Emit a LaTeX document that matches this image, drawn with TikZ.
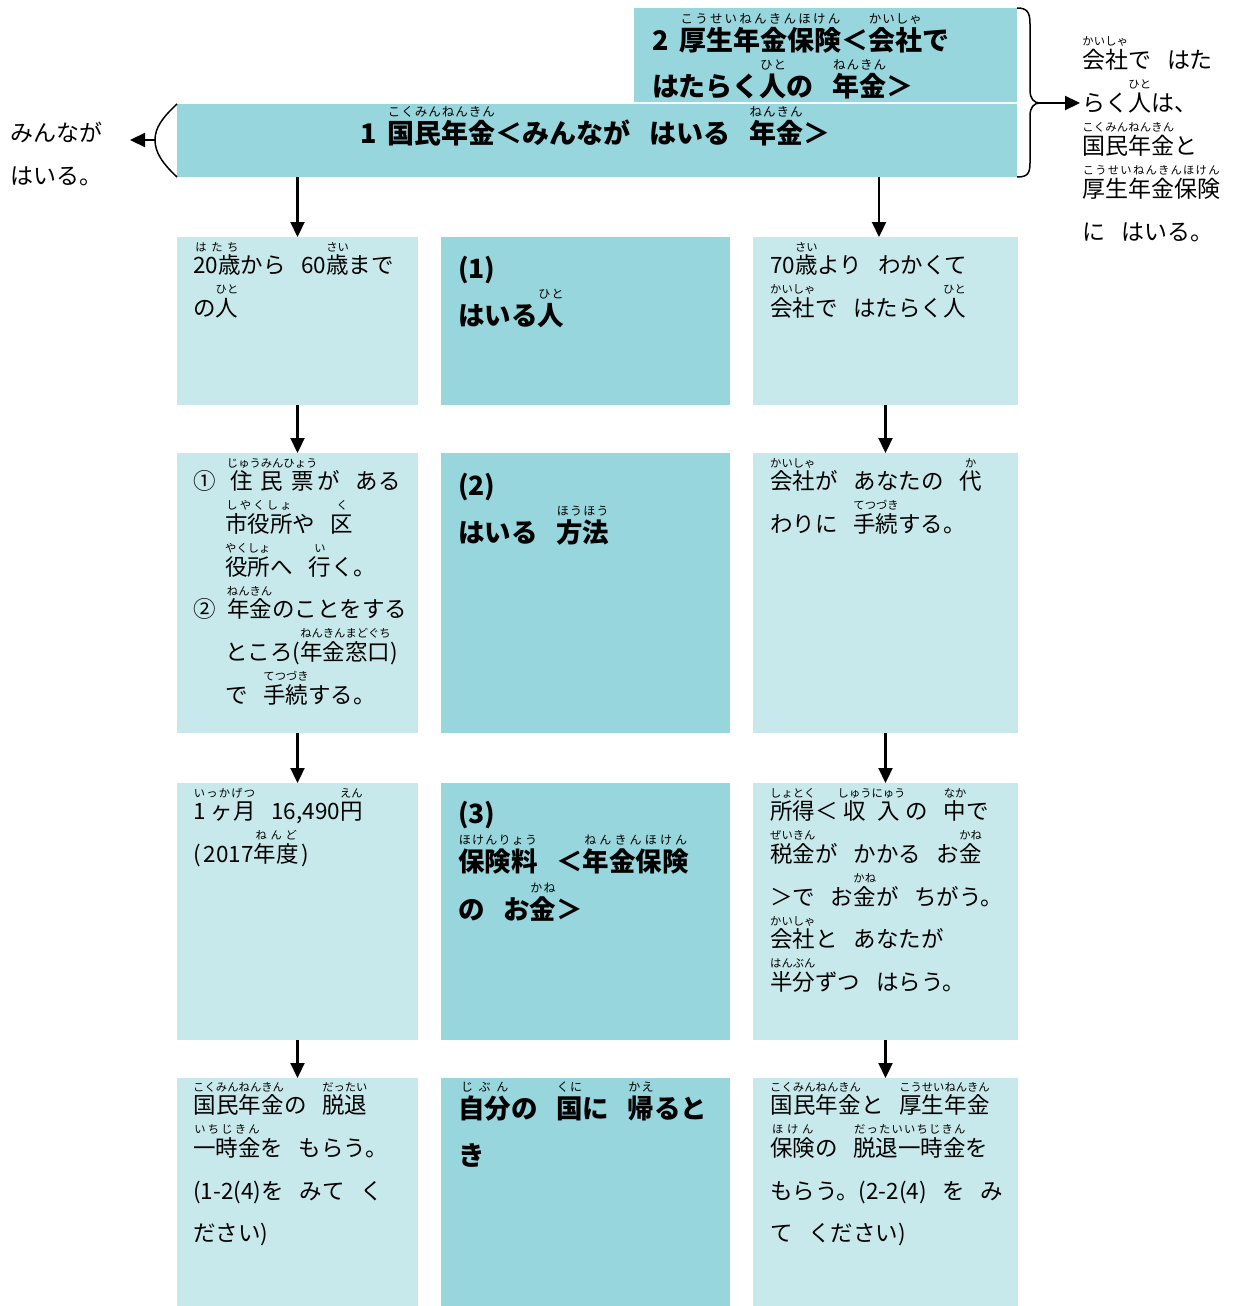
\documentclass[tikz,border=0pt]{standalone}
\usepackage{fontspec}
\setmainfont{Noto Sans CJK JP}
\usetikzlibrary{arrows.meta}
\definecolor{lightbox}{HTML}{C8E9EC}
\definecolor{darkbox}{HTML}{97D6DC}
\makeatletter
\newdimen\rbw
\newbox\rbbase
\newbox\rbtop
\def\rubysize{11.3}
\newcommand\rubyfont{\fontsize{\rubysize pt}{\rubysize pt}\selectfont\mdseries}
\newcommand\spreadto[2]{\hbox to #1{\hskip 0pt plus 1fil\@tfor\rb@x:=#2\do{\rb@x\hskip 0pt plus 2fil}\unskip\hskip 0pt plus 1fil}}
\newcommand\rb[2]{\leavevmode
  \setbox\rbbase\hbox{#1}\setbox\rbtop\hbox{\rubyfont #2}%
  \ifdim\wd\rbtop>\wd\rbbase \rbw=\wd\rbtop \else \rbw=\wd\rbbase \fi
  \rlap{\raisebox{1em}{\rubyfont\spreadto{\rbw}{#2}}}%
  \ifdim\wd\rbtop>\wd\rbbase \spreadto{\rbw}{#1}\else\box\rbbase\fi}
\makeatother
\newcommand\gp{\hskip.7em\relax}
\newcommand\jlines[2][42.7pt]{\vtop{\baselineskip=#1\lineskiplimit=-100pt\lineskip=0pt #2}}
\newcommand\jl[1]{\hbox{#1}}
\newcommand\bodyf{\fontsize{22.5pt}{42.7pt}\selectfont\def\rubysize{11.3}}
\newcommand\sidef{\fontsize{23pt}{43pt}\selectfont\def\rubysize{11.3}}
\newcommand\ttlf{\fontsize{27pt}{46pt}\selectfont\bfseries\def\rubysize{12.5}}
\newcommand\midf{\fontsize{26.5pt}{47pt}\selectfont\bfseries\def\rubysize{12}}
\tikzset{
  bx/.style={anchor=north west, inner sep=0pt, outer sep=0pt, draw=none},
  lbx/.style={bx, fill=lightbox},
  dbx/.style={bx, fill=darkbox},
  body/.style={anchor=base west, inner sep=0pt, font=\bodyf},
  side/.style={anchor=base west, inner sep=0pt, font=\sidef},
  ttl/.style={anchor=base west, inner sep=0pt, font=\ttlf},
  mid/.style={anchor=base west, inner sep=0pt, font=\midf},
  arr/.style={line width=2.2pt, -{Triangle[length=15pt,width=14pt]}},
  brk/.style={line width=1.5pt},
}
\begin{document}
\begin{tikzpicture}[x=1pt,y=-1pt]
\useasboundingbox (0,0) rectangle (1235,1306);
\fill[white] (0,0) rectangle (1235,1306);
% title boxes
\node[dbx, minimum width=383pt, minimum height=94pt] (t2) at (634,8) {};
\node[dbx, minimum width=840pt, minimum height=73pt] (t1) at (177,104) {};
% grid boxes
\node[lbx, minimum width=241pt, minimum height=168pt] (l1) at (177,237) {};
\node[dbx, minimum width=289pt, minimum height=168pt] (m1) at (441,237) {};
\node[lbx, minimum width=265pt, minimum height=168pt] (r1) at (753,237) {};
\node[lbx, minimum width=241pt, minimum height=280pt] (l2) at (177,453) {};
\node[dbx, minimum width=289pt, minimum height=280pt] (m2) at (441,453) {};
\node[lbx, minimum width=265pt, minimum height=280pt] (r2) at (753,453) {};
\node[lbx, minimum width=241pt, minimum height=257pt] (l3) at (177,783) {};
\node[dbx, minimum width=289pt, minimum height=257pt] (m3) at (441,783) {};
\node[lbx, minimum width=265pt, minimum height=257pt] (r3) at (753,783) {};
\node[lbx, minimum width=241pt, minimum height=228pt] (l4) at (177,1078) {};
\node[dbx, minimum width=289pt, minimum height=228pt] (m4) at (441,1078) {};
\node[lbx, minimum width=265pt, minimum height=228pt] (r4) at (753,1078) {};
% title texts
\node[ttl] (t2t) at (652,50.3) {\jlines[46pt]{%
  \jl{2\hskip.4em\rb{厚生年金保険}{こうせいねんきんほけん}＜\rb{会社}{かいしゃ}で}%
  \jl{はたらく\rb{人}{ひと}の\gp\rb{年金}{ねんきん}＞}}};
\node[ttl] (t1t) at (360,143.3) {1\hskip.4em\rb{国民年金}{こくみんねんきん}＜みんなが\gp はいる\gp\rb{年金}{ねんきん}＞};
% side texts
\node[side] (lt) at (10,141.6) {\jlines[43pt]{\jl{みんなが}\jl{はいる。}}};
\node[side] (rt) at (1082,68.7) {\jlines[43pt]{%
  \jl{\rb{会社}{かいしゃ}で\gp はた}%
  \jl{らく\rb{人}{ひと}は、}%
  \jl{\rb{国民年金}{こくみんねんきん}と}%
  \jl{\rb{厚生年金保険}{こうせいねんきんほけん}}%
  \jl{に\gp はいる。}}};
% brackets
\coordinate (bk) at (155,140);
\coordinate (bkend) at (130,140);
\draw[brk] (t1.north west) .. controls (162,118) and (155,128) .. (bk) .. controls (155,152) and (162,163) .. (t1.south west);
\draw[arr] (bk) -- (bkend);
\coordinate (br) at (1040,103);
\coordinate (brend) at (1080,103);
\draw[brk] (t2.north east) .. controls (1027,8) and (1030,12) .. (1030,24) -- (1030,90) .. controls (1030,99) and (1034,103) .. (br)
  .. controls (1034,103) and (1030,107) .. (1030,116) -- (1030,163) .. controls (1030,174) and (1027,177) .. (t1.south east);
\draw[arr] (br) -- (brend);
% arrows
\draw[arr] (t1.south -| l1.north) -- (l1.north);
\draw[arr] ([xshift=-6.5pt]r1.north |- t1.south) -- ([xshift=-6.5pt]r1.north);
\draw[arr] (l1.south) -- (l2.north);
\draw[arr] (l2.south) -- (l3.north);
\draw[arr] (l3.south) -- (l4.north);
\draw[arr] (r1.south) -- (r2.north);
\draw[arr] (r2.south) -- (r3.north);
\draw[arr] (r3.south) -- (r4.north);
% left column texts
\node[body] (l1t) at (193,273.5) {\jlines{%
  \jl{\rb{20歳}{はたち}から\gp 60\rb{歳}{さい}まで}%
  \jl{の\rb{人}{ひと}}}};
\node[body] (l2t) at (193,489.6) {\jlines{%
  \jl{①\hskip.5em\rb{住民票}{じゅうみんひょう}が\gp ある}%
  \jl{\hskip32pt\rb{市役所}{しやくしょ}や\gp\rb{区}{く}}%
  \jl{\hskip32pt\rb{役所}{やくしょ}へ\gp\rb{行}{い}く。}%
  \jl{②\hskip.5em\rb{年金}{ねんきん}のことをする}%
  \jl{\hskip32pt ところ(\rb{年金窓口}{ねんきんまどぐち})}%
  \jl{\hskip32pt で\gp\rb{手続}{てつづき}する。}}};
\node[body] (l3t) at (193,819.6) {\jlines{%
  \jl{\rb{1~ヶ月}{いっかげつ}\gp 16,490\rb{円}{えん}}%
  \jl{(\hskip3pt 2017\rb{年度}{ねんど}\hskip3pt)}}};
\node[body] (l4t) at (193,1113.6) {\jlines{%
  \jl{\rb{国民年金}{こくみんねんきん}の\gp\rb{脱退}{だったい}}%
  \jl{\rb{一時金}{いちじきん}を\gp もらう。}%
  \jl{(1-2(4)を\gp みて\gp く}%
  \jl{ださい)}}};
% middle column texts
\node[mid] (m1t) at (458,278) {\jlines[47pt]{\jl{(1)}\jl{はいる\rb{人}{ひと}}}};
\node[mid] (m2t) at (458,495) {\jlines[47pt]{\jl{(2)}\jl{はいる\gp\rb{方法}{ほうほう}}}};
\node[mid] (m3t) at (458,823) {\jlines[48pt]{\jl{(3)}%
  \jl{\rb{保険料}{ほけんりょう}\gp ＜\rb{年金保険}{ねんきんほけん}}%
  \jl{の\gp お\rb{金}{かね}＞}}};
\node[mid] (m4t) at (458,1118) {\jlines[47pt]{%
  \jl{\rb{自分}{じぶん}の\gp\rb{国}{くに}に\gp\rb{帰}{かえ}ると}%
  \jl{き}}};
% right column texts
\node[body] (r1t) at (770,273.5) {\jlines{%
  \jl{70\rb{歳}{さい}より\gp わかくて}%
  \jl{\rb{会社}{かいしゃ}で\gp はたらく\rb{人}{ひと}}}};
\node[body] (r2t) at (770,489.6) {\jlines{%
  \jl{\rb{会社}{かいしゃ}が\gp あなたの\gp\rb{代}{か}}%
  \jl{わりに\gp\rb{手続}{てつづき}する。}}};
\node[body] (r3t) at (770,819.6) {\jlines{%
  \jl{\rb{所得}{しょとく}＜\rb{収入}{しゅうにゅう}の\gp\rb{中}{なか}で}%
  \jl{\rb{税金}{ぜいきん}が\gp かかる\gp お\rb{金}{かね}}%
  \jl{＞で\gp お\rb{金}{かね}が\gp ちがう。}%
  \jl{\rb{会社}{かいしゃ}と\gp あなたが}%
  \jl{\rb{半分}{はんぶん}ずつ\gp はらう。}}};
\node[body] (r4t) at (770,1113.6) {\jlines{%
  \jl{\rb{国民年金}{こくみんねんきん}と\gp\rb{厚生年金}{こうせいねんきん}}%
  \jl{\rb{保険}{ほけん}の\gp\rb{脱退一時金}{だったいいちじきん}を}%
  \jl{もらう。(2-2(4)\gp を\gp み}%
  \jl{て\gp ください)}}};
\end{tikzpicture}
\end{document}
